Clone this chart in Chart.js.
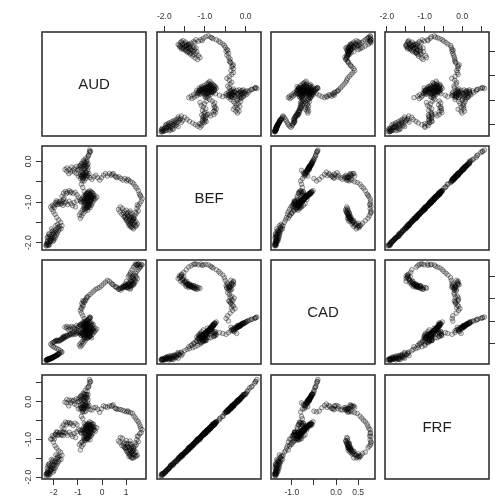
<!DOCTYPE html>
<html><head><meta charset="utf-8">
<script src="https://cdn.jsdelivr.net/npm/chart.js@4/dist/chart.umd.min.js"></script>
<style>
html,body{margin:0;padding:0;background:#fff;overflow:hidden;width:498px;height:496px;}
#wrap{position:relative;width:498px;height:496px;overflow:hidden;}
#wrap canvas{position:absolute;}
</style></head><body><div id="wrap"></div>
<script>
// ---- data ----
const variables = ['AUD', 'BEF', 'CAD', 'FRF'];

const AUD = [
-2.32,-2.31,-2.29,-2.27,-2.25,-2.22,-2.18,-2.15,-2.20,-2.24,
-2.19,-2.12,-2.08,-2.04,-2.00,-1.97,-2.02,-2.06,-2.10,-2.03,
-1.95,-1.90,-1.85,-1.80,-1.86,-1.92,-1.84,-1.76,-1.70,-1.66,
-1.72,-1.80,-1.88,-1.95,-2.02,-2.08,-2.13,-2.06,-1.98,-1.92,
-1.86,-1.80,-1.74,-1.68,-1.62,-1.56,-1.60,-1.66,-1.60,-1.52,
-1.44,-1.36,-1.28,-1.20,-1.12,-1.04,
-0.98,-0.92,-0.86,-0.80,-0.74,-0.70,-0.76,-0.82,-0.88,-0.94,
-0.90,-0.84,-0.78,-0.70,-0.64,-0.58,-0.52,-0.46,-0.40,-0.34,
-0.28,-0.22,-0.30,-0.38,-0.46,-0.54,-0.62,-0.68,-0.74,-0.66,
-0.58,-0.50,-0.44,-0.50,-0.58,-0.64,-0.56,-0.48,-0.42,-0.36,
-0.44,-0.52,-0.60,-0.68,-0.72,-0.64,-0.56,-0.62,-0.70,-0.60,
-0.50,-0.44,-0.52,-0.60,
-0.66,-0.74,-0.80,-0.86,-0.82,-0.90,-0.98,-1.06,-1.14,-1.22,
-1.30,-1.38,-1.46,-1.54,-1.46,-1.36,-1.26,-1.16,-1.06,-0.98,
-0.90,-0.82,-0.76,-0.70,-0.64,-0.58,-0.64,-0.72,-0.78,-0.70,
-0.62,-0.56,-0.52,-0.48,-0.52,-0.50,-0.56,-0.62,-0.68,-0.74,
-0.80,-0.72,-0.66,-0.60,-0.54,-0.62,
-0.68,-0.74,-0.80,-0.86,-0.90,-0.84,-0.78,-0.84,-0.76,-0.70,
-0.64,-0.58,-0.50,-0.42,-0.34,-0.26,-0.18,-0.10,-0.02,0.06,
0.14,0.22,0.30,
0.38,0.46,0.54,0.62,0.70,0.78,0.86,0.94,1.02,1.10,
1.18,1.26,1.32,1.38,1.44,1.50,1.54,1.60,1.66,1.62,
1.56,1.50,1.44,1.50,1.42,1.36,1.30,
1.24,1.18,1.12,1.20,1.28,1.34,1.26,1.18,1.10,1.02,
0.94,1.00,1.08,1.16,1.24,1.32,1.40,1.46,1.38,1.30,
1.22,1.14,1.06,0.98,0.90,0.82,0.74,0.68,0.76,0.84,
0.92,1.00,1.08,1.16,
-2.30,-2.26,-2.23,-2.17,-2.13,-2.10,-2.16,-2.21,-2.27,-2.09,
-2.05,-2.00,-1.94,-1.99,-1.93,-1.88,-1.82,-1.78,-2.14,-2.24,
-1.94,-1.89,-1.84,-1.78,-1.71,-1.65,-2.00,-1.58,-1.48,-1.32,
-0.78,-0.72,-0.67,-0.61,-0.55,-0.49,-0.43,-0.47,-0.53,-0.59,
-0.65,-0.71,-0.77,-0.69,-0.62,-0.55,-0.48,-0.41,-0.37,-0.33,
-0.57,-0.63,-0.69,-0.75,-0.66,-0.58,-0.52,-0.47,-0.61,-0.53,
-0.46,-0.40,-0.84,-0.88,-0.73,
-0.95,-0.88,-0.83,-0.78,-0.73,-0.68,-0.61,-0.67,-0.75,-0.86,
-0.92,-1.01,-0.70,-0.77,-0.58,
-0.81,-0.74,-0.80,-0.68,-0.62,-0.87,
0.42,0.58,1.06,1.58,1.46,1.38,
1.22,1.15,1.28,1.21,1.13,1.05,1.35,1.42,1.27,1.17,
1.09,1.01,0.96,0.88,1.31,1.19,
-1.50,-1.43,-1.36,-1.29,-1.22,-1.16,-1.10,-1.05
];

const BEF = [
-2.06,-2.08,-2.02,-1.98,-2.04,-2.07,-2.00,-1.94,-1.90,-1.85,
-1.80,-1.86,-1.92,-1.97,-1.90,-1.84,-1.78,-1.72,-1.66,-1.70,
-1.76,-1.82,-1.77,-1.70,-1.64,-1.58,-1.55,-1.60,-1.66,-1.58,
-1.50,-1.44,-1.38,-1.30,-1.24,-1.18,-1.12,-1.08,-1.14,-1.06,
-1.00,-1.04,-0.98,-1.03,-1.08,-1.02,-0.94,-0.86,-0.78,-0.74,
-0.76,-0.72,-0.75,-0.79,-0.76,-0.82,
-0.88,-0.94,-1.00,-0.96,-1.02,-1.08,-1.14,-1.20,-1.26,-1.32,
-1.40,-1.34,-1.28,-1.22,-1.16,-1.10,-1.04,-0.98,-1.02,-0.96,
-0.92,-0.88,-0.84,-0.88,-0.92,-0.96,-0.92,-0.86,-0.90,-0.96,
-1.00,-0.94,-0.88,-0.82,-0.86,-0.80,-0.76,-0.80,-0.84,-0.80,
-0.76,-0.72,-0.76,-0.80,-0.94,-1.04,-1.08,-1.12,-1.16,-1.20,
-1.14,-1.08,-0.98,-0.90,
-0.84,-0.74,-0.64,-0.56,-0.48,-0.42,-0.36,-0.30,-0.26,-0.22,
-0.26,-0.30,-0.24,-0.20,-0.16,-0.20,-0.14,-0.18,-0.12,-0.16,
-0.10,-0.06,-0.12,-0.18,-0.12,-0.06,0.00,-0.04,0.02,0.06,
0.10,0.16,0.22,0.25,0.28,0.24,0.14,0.04,-0.08,-0.20,
-0.28,-0.34,-0.28,-0.22,-0.30,-0.36,
-0.42,-0.48,-0.44,-0.38,-0.32,-0.26,-0.30,-0.36,-0.40,-0.34,
-0.28,-0.34,-0.40,-0.44,-0.38,-0.34,-0.40,-0.46,-0.40,-0.34,
-0.30,-0.36,-0.30,
-0.34,-0.30,-0.36,-0.40,-0.38,-0.42,-0.46,-0.42,-0.48,-0.46,
-0.50,-0.52,-0.56,-0.62,-0.66,-0.72,-0.80,-0.86,-0.92,-0.98,
-1.04,-1.10,-1.16,-1.22,-1.28,-1.34,-1.40,
-1.46,-1.52,-1.58,-1.62,-1.56,-1.50,-1.44,-1.40,-1.46,-1.40,
-1.34,-1.28,-1.34,-1.30,-1.36,-1.42,-1.48,-1.54,-1.60,-1.66,
-1.60,-1.54,-1.48,-1.42,-1.36,-1.30,-1.24,-1.18,-1.12,-1.16,
-1.22,-1.20,-1.26,-1.22,
-2.04,-1.96,-2.01,-2.05,-1.97,-1.90,-1.84,-1.78,-1.88,-1.80,
-1.86,-1.94,-1.88,-1.74,-1.70,-1.74,-1.62,-1.66,-1.95,-2.06,
-1.02,-0.97,-1.06,-1.00,-1.05,-0.98,-1.10,-0.90,-0.79,-0.77,
-0.99,-0.97,-1.00,-0.97,-1.02,-0.99,-0.94,-0.90,-0.88,-0.91,
-0.89,-0.92,-0.86,-0.83,-0.85,-0.83,-0.86,-0.90,-0.86,-0.91,
-1.06,-1.09,-1.05,-1.10,-1.14,-1.13,-1.10,-1.05,-0.79,-0.78,
-0.74,-0.78,-0.92,-0.98,-1.18,
-0.20,-0.16,-0.12,-0.18,-0.09,-0.14,-0.09,-0.03,-0.01,-0.05,
-0.11,-0.21,-0.25,-0.32,-0.16,
-0.33,-0.37,-0.41,-0.31,-0.38,-0.35,
-0.32,-0.38,-0.44,-0.83,-1.07,-1.25,
-1.49,-1.43,-1.46,-1.38,-1.36,-1.32,-1.55,-1.58,-1.63,-1.57,
-1.52,-1.45,-1.38,-1.27,-1.39,-1.27,
-1.00,-1.06,-0.98,-1.04,-1.09,-1.01,-1.12,-0.97
];

const CAD = [
-1.39,-1.38,-1.38,-1.37,-1.36,-1.36,-1.35,-1.34,-1.35,-1.36,
-1.36,-1.34,-1.33,-1.32,-1.31,-1.30,-1.32,-1.33,-1.34,-1.31,
-1.29,-1.28,-1.27,-1.25,-1.26,-1.28,-1.24,-1.22,-1.21,-1.20,
-1.17,-1.14,-1.12,-1.10,-1.08,-1.05,-1.02,-0.99,-0.97,-0.95,
-0.93,-0.96,-0.94,-0.92,-0.90,-0.88,-0.86,-0.88,-0.85,-0.83,
-0.82,-0.80,-0.78,-0.76,-0.74,-0.76,
-0.74,-0.78,-0.82,-0.80,-0.84,-0.88,-0.92,-0.96,-1.00,-1.04,
-1.08,-1.05,-1.00,-0.95,-0.90,-0.86,-0.82,-0.78,-0.80,-0.76,
-0.72,-0.68,-0.66,-0.70,-0.74,-0.76,-0.72,-0.68,-0.70,-0.74,
-0.78,-0.72,-0.66,-0.62,-0.64,-0.60,-0.56,-0.58,-0.62,-0.58,
-0.54,-0.52,-0.56,-0.62,-0.66,-0.70,-0.74,-0.78,-0.82,-0.86,
-0.84,-0.88,-0.84,-0.80,
-0.70,-0.74,-0.76,-0.78,-0.80,-0.76,-0.72,-0.70,-0.68,-0.66,
-0.68,-0.70,-0.66,-0.64,-0.62,-0.64,-0.62,-0.64,-0.60,-0.62,
-0.58,-0.56,-0.60,-0.62,-0.58,-0.54,-0.52,-0.55,-0.52,-0.50,
-0.48,-0.46,-0.44,-0.42,-0.41,-0.43,-0.46,-0.50,-0.56,-0.60,
-0.66,-0.70,-0.74,-0.78,-0.72,-0.64,
-0.50,-0.44,-0.38,-0.32,-0.26,-0.22,-0.16,-0.10,-0.06,-0.02,
0.02,0.06,0.10,0.14,0.18,0.22,0.24,0.26,0.30,0.34,
0.38,0.42,0.40,
0.36,0.32,0.28,0.26,0.22,0.20,0.24,0.28,0.30,0.36,
0.42,0.48,0.54,0.58,0.62,0.66,0.70,0.74,0.77,0.78,
0.77,0.79,0.77,0.79,0.78,0.75,0.72,
0.66,0.60,0.54,0.48,0.42,0.38,0.34,0.30,0.28,0.26,
0.28,0.30,0.32,0.28,0.30,0.34,0.40,0.46,0.52,0.46,
0.40,0.36,0.32,0.30,0.28,0.26,0.24,0.22,0.24,0.26,
0.28,0.26,0.24,0.22,
-1.38,-1.37,-1.37,-1.35,-1.34,-1.35,-1.36,-1.37,-1.38,-1.33,
-1.33,-1.31,-1.29,-1.31,-1.29,-1.28,-1.26,-1.24,-1.35,-1.37,
-0.95,-0.94,-0.95,-0.93,-0.92,-0.90,-0.98,-0.87,-0.84,-0.79,
-0.80,-0.77,-0.79,-0.75,-0.79,-0.76,-0.73,-0.70,-0.69,-0.71,
-0.70,-0.73,-0.70,-0.66,-0.67,-0.65,-0.67,-0.71,-0.67,-0.73,
-0.82,-0.83,-0.81,-0.86,-0.87,-0.88,-0.85,-0.84,-0.60,-0.58,
-0.56,-0.60,-0.76,-0.82,-0.90,
-0.63,-0.61,-0.59,-0.61,-0.57,-0.59,-0.56,-0.54,-0.54,-0.56,
-0.59,-0.65,-0.64,-0.68,-0.60,
-0.14,-0.08,-0.04,-0.04,0.04,-0.20,
0.33,0.27,0.33,0.72,0.76,0.79,
0.38,0.33,0.36,0.31,0.29,0.27,0.44,0.50,0.52,0.56,
0.50,0.40,0.34,0.30,0.32,0.25,
-0.86,-0.84,-0.82,-0.81,-0.80,-0.79,-0.80,-0.77
];

const FRF = [
-1.92,-1.97,-1.90,-1.88,-1.91,-1.92,-1.91,-1.81,-1.79,-1.70,
-1.65,-1.74,-1.80,-1.87,-1.77,-1.68,-1.68,-1.58,-1.53,-1.55,
-1.61,-1.70,-1.64,-1.59,-1.49,-1.41,-1.44,-1.45,-1.53,-1.42,
-1.34,-1.30,-1.23,-1.17,-1.07,-0.99,-0.99,-0.90,-0.99,-0.87,
-0.81,-0.88,-0.81,-0.88,-0.90,-0.82,-0.80,-0.67,-0.61,-0.54,
-0.56,-0.55,-0.57,-0.63,-0.57,-0.61,
-0.73,-0.76,-0.84,-0.77,-0.83,-0.92,-0.98,-1.06,-1.09,-1.14,
-1.28,-1.18,-1.13,-1.04,-0.98,-0.95,-0.87,-0.83,-0.84,-0.76,
-0.78,-0.69,-0.67,-0.68,-0.73,-0.80,-0.75,-0.70,-0.72,-0.76,
-0.86,-0.76,-0.71,-0.62,-0.66,-0.63,-0.58,-0.64,-0.65,-0.59,
-0.61,-0.53,-0.59,-0.60,-0.75,-0.88,-0.91,-0.98,-0.99,-1.01,
-1.01,-0.90,-0.82,-0.71,
-0.64,-0.57,-0.45,-0.39,-0.27,-0.19,-0.19,-0.09,-0.06,0.01,
-0.03,-0.11,-0.03,-0.01,0.06,0.04,0.04,0.04,0.08,0.07,
0.14,0.15,0.09,0.01,0.10,0.19,0.19,0.19,0.23,0.30,
0.37,0.41,0.49,0.54,0.59,0.53,0.39,0.27,0.13,0.03,
-0.05,-0.15,-0.07,-0.03,-0.09,-0.13,
-0.25,-0.27,-0.25,-0.16,-0.10,-0.06,-0.10,-0.18,-0.19,-0.11,
-0.10,-0.13,-0.21,-0.22,-0.16,-0.15,-0.20,-0.28,-0.19,-0.11,
-0.13,-0.15,-0.11,
-0.12,-0.08,-0.17,-0.20,-0.20,-0.21,-0.23,-0.25,-0.27,-0.27,
-0.29,-0.31,-0.38,-0.43,-0.49,-0.53,-0.59,-0.71,-0.74,-0.82,
-0.85,-0.92,-1.01,-1.06,-1.14,-1.18,-1.22,
-1.34,-1.37,-1.45,-1.46,-1.40,-1.37,-1.29,-1.27,-1.30,-1.22,
-1.22,-1.11,-1.20,-1.13,-1.19,-1.28,-1.33,-1.42,-1.45,-1.49,
-1.49,-1.39,-1.34,-1.25,-1.19,-1.16,-1.08,-1.04,-0.95,-0.97,
-1.09,-1.03,-1.11,-1.04,
-1.92,-1.84,-1.88,-1.94,-1.85,-1.79,-1.70,-1.66,-1.76,-1.67,
-1.73,-1.83,-1.76,-1.60,-1.57,-1.61,-1.48,-1.53,-1.83,-1.96,
-0.86,-0.80,-0.89,-0.83,-0.88,-0.81,-0.93,-0.72,-0.61,-0.59,
-0.82,-0.80,-0.83,-0.79,-0.85,-0.82,-0.77,-0.72,-0.71,-0.74,
-0.71,-0.75,-0.69,-0.66,-0.68,-0.65,-0.69,-0.73,-0.68,-0.74,
-0.89,-0.92,-0.88,-0.94,-0.98,-0.97,-0.93,-0.88,-0.61,-0.60,
-0.56,-0.60,-0.75,-0.81,-1.02,
0.01,0.05,0.09,0.03,0.13,0.08,0.12,0.19,0.21,0.17,
0.11,0.00,-0.04,-0.11,0.05,
-0.13,-0.17,-0.21,-0.11,-0.18,-0.15,
-0.11,-0.18,-0.24,-0.65,-0.91,-1.09,
-1.35,-1.28,-1.32,-1.23,-1.21,-1.17,-1.41,-1.44,-1.49,-1.43,
-1.38,-1.31,-1.23,-1.12,-1.24,-1.12,
-0.83,-0.89,-0.81,-0.87,-0.92,-0.84,-0.95,-0.80
];

// tick values and labels per variable (blank label = unlabeled tick)
const audTicks = [-2, -1, 0, 1];
const audTickLabels = ['-2', '-1', '0', '1'];
const befTicks = [-2, -1.5, -1, -0.5, 0];
const befTickLabels = ['-2.0', '', '-1.0', '', '0.0'];
const cadTicks = [-1, -0.5, 0, 0.5];
const cadTickLabels = ['-1.0', '', '0.0', '0.5'];
const frfTicks = [-2, -1.5, -1, -0.5, 0, 0.5];
const frfTickLabels = ['-2.0', '', '-1.0', '', '0.0', ''];

// ---- configuration ----
const series = [AUD, BEF, CAD, FRF];
const tickValues = [audTicks, befTicks, cadTicks, frfTicks];
const tickLabels = [audTickLabels, befTickLabels, cadTickLabels, frfTickLabels];
const axisMin = [-2.49, -2.18, -1.47, -2.05];
const axisMax = [1.82, 0.38, 0.88, 0.71];

const M = 30, S = 104;
const colLeft = [42, 157, 271, 385];
const rowTop = [32, 146, 260, 375];
const FONT = "'Liberation Sans', Arial, Helvetica, sans-serif";

const panelPlugin = {
  id: 'panelBox',
  afterDatasetsDraw(chart, args, opts) {
    const ctx = chart.ctx, a = chart.chartArea;
    ctx.save();
    if (opts && opts.label) {
      ctx.font = '15px ' + FONT;
      ctx.fillStyle = '#1e1e1e';
      ctx.textAlign = 'center';
      ctx.textBaseline = 'middle';
      ctx.fillText(opts.label, (a.left + a.right) / 2, (a.top + a.bottom) / 2 + 1);
    }
    ctx.strokeStyle = '#333';
    ctx.lineWidth = 1.6;
    ctx.strokeRect(a.left, a.top, a.right - a.left, a.bottom - a.top);
    ctx.restore();
  }
};

function labelFor(v, value) {
  const tv = tickValues[v];
  for (let k = 0; k < tv.length; k++) {
    if (Math.abs(tv[k] - value) < 1e-9) return tickLabels[v][k];
  }
  return '';
}

function makeScale(v, axis, pos, show) {
  let pad = 0;
  if (pos === 'top') pad = 4;
  else if (pos === 'bottom') pad = 3;
  else if (pos === 'right') pad = 14;
  return {
    type: 'linear',
    position: pos,
    display: true,
    min: axisMin[v],
    max: axisMax[v],
    afterBuildTicks: s => { s.ticks = tickValues[v].map(t => ({ value: t })); },
    afterFit: s => { if (axis === 'x') s.height = M; else s.width = M; },
    grid: { display: show, drawOnChartArea: false, drawTicks: true, tickLength: 6, color: '#333', lineWidth: 1 },
    border: { display: false },
    ticks: {
      display: show,
      autoSkip: false,
      font: { family: FONT, size: 8.5 },
      color: '#333',
      padding: pad,
      minRotation: axis === 'y' ? 90 : 0,
      maxRotation: axis === 'y' ? 90 : 0,
      crossAlign: axis === 'y' ? 'center' : 'near',
      callback: (value) => labelFor(v, value)
    }
  };
}

const wrap = document.getElementById('wrap');
const n = Math.min(AUD.length, BEF.length, CAD.length, FRF.length);

for (let i = 0; i < 4; i++) {        // row -> y variable
  for (let j = 0; j < 4; j++) {      // column -> x variable
    const c = document.createElement('canvas');
    c.width = S + 2 * M; c.height = S + 2 * M;
    c.style.left = (colLeft[j] - M) + 'px';
    c.style.top = (rowTop[i] - M) + 'px';
    c.style.width = (S + 2 * M) + 'px';
    c.style.height = (S + 2 * M) + 'px';
    wrap.appendChild(c);

    const diag = i === j;
    const xPos = (i === 0 && j % 2 === 1) ? 'top' : 'bottom';
    const showX = !diag && ((i === 0 && j % 2 === 1) || (i === 3 && j % 2 === 0));
    const yPos = (j === 3 && i % 2 === 0) ? 'right' : 'left';
    const showY = !diag && ((j === 0 && i % 2 === 1) || (j === 3 && i % 2 === 0));

    const pts = [];
    if (!diag) {
      const X = series[j], Y = series[i];
      for (let k = 0; k < n; k++) pts.push({ x: X[k], y: Y[k] });
    }

    new Chart(c, {
      type: 'scatter',
      data: {
        datasets: diag ? [] : [{
          data: pts,
          pointRadius: 2.3,
          pointBorderWidth: 0.9,
          pointBorderColor: 'rgba(0,0,0,0.42)',
          pointBackgroundColor: 'rgba(0,0,0,0.13)',
          showLine: false
        }]
      },
      options: {
        responsive: false,
        animation: false,
        devicePixelRatio: 1,
        events: [],
        layout: { padding: {
          top: xPos === 'top' ? 0 : M,
          bottom: xPos === 'bottom' ? 0 : M,
          left: yPos === 'left' ? 0 : M,
          right: yPos === 'right' ? 0 : M
        } },
        scales: {
          x: makeScale(j, 'x', xPos, showX),
          y: makeScale(i, 'y', yPos, showY)
        },
        plugins: {
          legend: { display: false },
          tooltip: { enabled: false },
          title: { display: false },
          panelBox: { label: diag ? variables[i] : '' }
        }
      },
      plugins: [panelPlugin]
    });
  }
}
</script>
</body></html>
